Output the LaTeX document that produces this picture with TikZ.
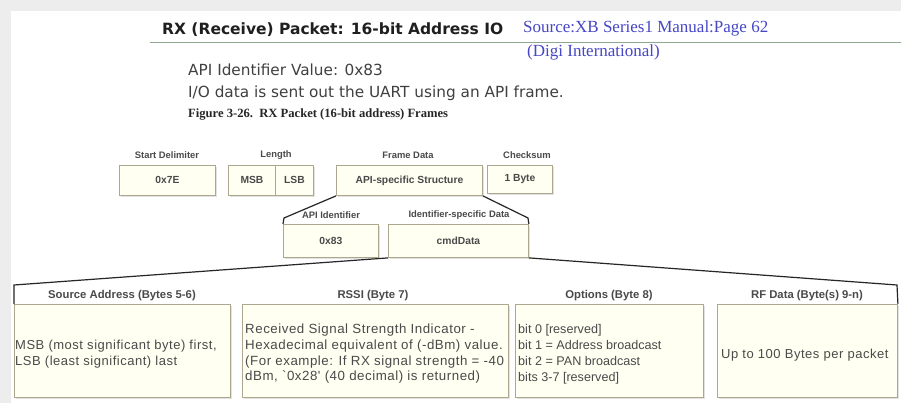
\documentclass[tikz,border=0pt]{standalone}
\usepackage{fontspec}
\setmainfont{Liberation Sans}
\newfontfamily\verd{DejaVu Sans}
\newfontfamily\tnr{Liberation Serif}
\newfontfamily\wide[LetterSpace=4]{Liberation Sans}
\usetikzlibrary{positioning,shadows}
\definecolor{edge}{HTML}{ADA78F}
\definecolor{cream}{HTML}{FFFFF2}
\definecolor{ink}{HTML}{4A4A4A}
\definecolor{srcblue}{HTML}{4646C6}
\definecolor{rule}{HTML}{8FA68F}
\tikzset{
  frame/.style={draw=edge,fill=cream,line width=0.9pt,minimum height=30pt,inner sep=0pt,
    anchor=north west,drop shadow={shadow xshift=1.2pt,shadow yshift=-1.5pt,fill=black!22},
    font=\bfseries\fontsize{10.3}{12}\selectfont,text=ink},
  bframe/.style={frame,minimum height=93pt},
  fieldlbl/.style={font=\bfseries\fontsize{9.4}{11}\selectfont,text=ink},
  headlbl/.style={font=\bfseries\fontsize{11.3}{13}\selectfont,text=ink},
  btext/.style={text=ink,align=left,anchor=west,inner sep=0pt},
  intro/.style={font=\verd\fontsize{15.3}{18}\selectfont,text=black!75,anchor=base west,inner sep=0pt},
  srcnote/.style={font=\tnr\fontsize{17}{19}\selectfont,text=srcblue,anchor=base west,inner sep=0pt},
  link/.style={draw=black!85,line width=1.2pt},
}
\begin{document}
\begin{tikzpicture}[x=1pt,y=-1pt]
\useasboundingbox (0,0) rectangle (901,403);
\fill[black!7] (0,0) rectangle (901,403);
\fill[white] (11,11) rectangle (901,403);
% heading
\node[font=\verd\bfseries\fontsize{15.5}{17}\selectfont,text=black!88,anchor=base west,inner sep=0pt] (head) at (162,35) {RX (Receive) Packet: 16-bit Address IO};
\draw[rule,line width=1pt] (150,43) -- (901,43);
\node[srcnote] (src1) at (523,33) {Source:XB Series1 Manual:Page 62};
\node[srcnote] (src2) at (527,57) {(Digi International)};
\node[intro] (apiv) at (188,76) {API Identifier Value: 0x83};
\node[intro] (uart) at (188,98) {I/O data is sent out the UART using an API frame.};
\node[font=\tnr\bfseries\fontsize{12.6}{14}\selectfont,text=black!85,anchor=base west,inner sep=0pt] (fig) at (188,118) {Figure 3-26.\ \ RX Packet (16-bit address) Frames};

% top row
\node[frame,minimum width=96pt] (start) at (119,165) {0x7E};
\node[frame,minimum width=47pt] (msb) at (228,165) {MSB};
\node[frame,minimum width=38pt] (lsb) at (275,165) {LSB};
\node[frame,minimum width=146pt] (api) at (336,165) {API-specific Structure};
\node[frame,minimum width=65pt,minimum height=28pt] (chk) at (487,165) {1 Byte};
\node[fieldlbl] at (167,155) {Start Delimiter};
\node[fieldlbl] at (276,155) {Length};
\node[fieldlbl] at (408,155) {Frame Data};
\node[fieldlbl] at (527,155) {Checksum};

% second row
\node[frame,minimum width=95pt,minimum height=33pt] (apiid) at (283,224) {0x83};
\node[frame,minimum width=140pt,minimum height=33pt] (cmd) at (388,224) {cmdData};
\node[fieldlbl] at (331,215) {API Identifier};
\node[fieldlbl] at (459,215) {Identifier-specific Data};
\coordinate (t1l) at (284,218);
\coordinate (t1r) at (528,218);
\draw[link] (api.south west) -- (t1l) -- (apiid.north west);
\draw[link] (api.south east) -- (t1r) -- (cmd.north east);

% third row
\node[bframe,minimum width=216pt] (srcad) at (14,304) {};
\node[bframe,minimum width=266pt] (rssi) at (242,304) {};
\node[bframe,minimum width=188pt] (opt) at (515,304) {};
\node[bframe,minimum width=180pt] (rf) at (717,304) {};
\node[headlbl] at (122,296) {Source Address (Bytes 5-6)};
\node[headlbl] at (373,296) {RSSI (Byte 7)};
\node[headlbl] at (609,296) {Options (Byte 8)};
\node[headlbl] at (807,296) {RF Data (Byte(s) 9-n)};
\coordinate (t2l) at (14,285);
\coordinate (t2r) at (897,285);
\draw[link] (cmd.south west) -- (t2l) -- (srcad.north west);
\draw[link] (cmd.south east) -- (t2r) -- (rf.north east);

\node[btext,font=\wide\fontsize{13}{16}\selectfont] at ([xshift=1pt,yshift=-3pt]srcad.west) {MSB (most significant byte) first,\\LSB (least significant) last};
\node[btext,font=\wide\fontsize{13.3}{15.7}\selectfont] at ([xshift=3pt,yshift=-3pt]rssi.west) {Received Signal Strength Indicator -\\Hexadecimal equivalent of (-dBm) value.\\(For example: If RX signal strength = -40\\dBm, `0x28' (40 decimal) is returned)};
\node[btext,font=\fontsize{12.6}{16}\selectfont] at ([xshift=3pt,yshift=-3pt]opt.west) {bit 0 [reserved]\\bit 1 = Address broadcast\\bit 2 = PAN broadcast\\bits 3-7 [reserved]};
\node[btext,font=\wide\fontsize{13}{16}\selectfont] at ([xshift=4pt,yshift=-4pt]rf.west) {Up to 100 Bytes per packet};
\end{tikzpicture}
\end{document}
